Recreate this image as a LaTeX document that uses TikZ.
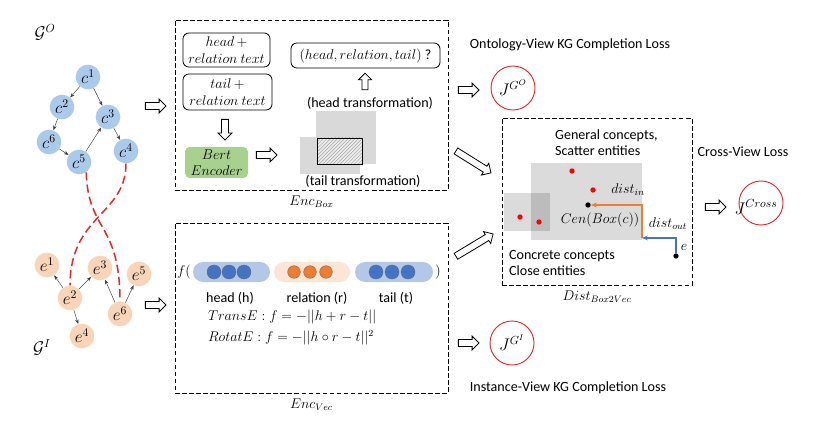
\documentclass[tikz,border=0pt]{standalone}
\usepackage{amsmath,amssymb}
\usepackage{fontspec}
\setmainfont{Carlito}
\usepackage{xcolor}
\usepackage{tikz}
\usetikzlibrary{positioning, arrows.meta, shapes.arrows, patterns}
\definecolor{conceptblue}{RGB}{171,202,234}
\definecolor{entitypeach}{RGB}{248,213,184}
\definecolor{bertgreen}{RGB}{169,209,142}
\definecolor{pillblue}{RGB}{180,199,231}
\definecolor{dotblue}{RGB}{68,114,196}
\definecolor{pillpeach}{RGB}{251,229,214}
\definecolor{dotorange}{RGB}{237,125,49}
\definecolor{boxgray}{RGB}{217,217,217}
\definecolor{lossred}{RGB}{232,40,40}
\tikzset{
  concept/.style={circle, fill=conceptblue, minimum size=0.74cm, inner sep=0pt, font=\Large},
  entity/.style={circle, fill=entitypeach, minimum size=0.74cm, inner sep=0pt, font=\Large},
  every edge/.style={draw, -{Stealth[length=4pt, width=3pt]}, black!75, line width=0.4pt},
  crosslink/.style={draw, lossred, line width=1.3pt, dash pattern=on 7pt off 3.5pt},
  hollow/.style={single arrow, draw, line width=0.7pt, fill=white, minimum height=0.62cm,
    inner sep=2.6pt, single arrow head extend=3pt},
  textbox/.style={draw, line width=0.7pt, rounded corners=5pt, align=center, inner sep=2pt, font=\large},
  bert/.style={rounded corners=4pt, fill=bertgreen, align=center, inner sep=2pt, font=\large},
  dashbox/.style={draw, dash pattern=on 4pt off 2pt, line width=0.6pt},
  pill/.style={rounded corners=0.3cm, minimum height=0.6cm},
  vecdot/.style={circle, draw=black!60, line width=0.3pt, minimum size=0.42cm, inner sep=0pt},
  loss/.style={circle, draw=lossred, line width=0.8pt, minimum size=1.32cm, inner sep=0pt, font=\Large},
  pt/.style={circle, inner sep=0pt, minimum size=0.16cm},
  distline/.style={-{Stealth[length=5pt, width=4pt]}, line width=1.1pt},
}

\begin{document}
\begin{tikzpicture}[x=0.03cm, y=-0.03cm, font=\fontsize{12}{13.8}\selectfont]
  \useasboundingbox (0,0) rectangle (815,427);

  \node[font=\Large] (gO) at (45,32) {$\mathcal{G}^{O}$};
  \node[concept] (c1) at (88,77) {$c^1$};
  \node[concept] (c2) at (62,107) {$c^2$};
  \node[concept] (c3) at (108,117) {$c^3$};
  \node[concept] (c6) at (49,142) {$c^6$};
  \node[concept] (c5) at (79,162) {$c^5$};
  \node[concept] (c4) at (126,151) {$c^4$};

  \node[entity] (e1) at (47,265) {$e^1$};
  \node[entity] (e3) at (100,268) {$e^3$};
  \node[entity] (e5) at (139,274) {$e^5$};
  \node[entity] (e2) at (70,298) {$e^2$};
  \node[entity] (e6) at (120,314) {$e^6$};
  \node[entity] (e4) at (82,336) {$e^4$};
  \node[font=\Large] (gI) at (42,347) {$\mathcal{G}^{I}$};

  \path (c1) edge (c2)
        (c1) edge (c3)
        (c2) edge (c6)
        (c6) edge (c5)
        (c5) edge (c3)
        (c3) edge (c4)
        (e2) edge (e1)
        (e2) edge (e3)
        (e2) edge (e4)
        (e6) edge (e3)
        (e6) edge (e5);

  \draw[crosslink] (c5.-55) .. controls (88,232) and (120,222) .. (e6.north);
  \draw[crosslink] (c4.south) .. controls (126,215) and (70,215) .. (e2.north);

  \node[hollow] (a1) at (154,106) {};
  \node[hollow] (a2) at (154,305) {};

  \node[dashbox, minimum width=8.19cm, minimum height=5.1cm] (encbox) at (311.5,105) {};
  \node[below=1pt of encbox] (encboxlbl) {$Enc_{Box}$};
  \node[textbox, minimum width=2.61cm, minimum height=1.02cm] (hrtext) at (226.5,50) {$head\,+$\\$relation\ text$};
  \node[textbox, minimum width=2.67cm, minimum height=1.08cm] (trtext) at (227.5,92) {$tail\,+$\\$relation\ text$};
  \node[hollow, rotate=-90] (a3) at (225,128) {};
  \node[bert, minimum width=1.89cm, minimum height=0.93cm] (bert) at (216.5,162.5) {$Bert$\\$Encoder$};
  \node[hollow] (a4) at (265,155) {};
  \node[textbox, minimum width=4.47cm, minimum height=0.75cm] (triple) at (365.5,55.5) {$(head, relation, tail)$ ?};
  \node[hollow, rotate=90, minimum height=0.5cm, inner sep=2.2pt] (a5) at (365,83) {};
  \node (headtr) at (370,103) {(head transformation)};
  \fill[boxgray] (316,111) rectangle (376,164);
  \fill[boxgray] (300,137) rectangle (360,174);
  \fill[boxgray!50] (317,138) rectangle (362,164);
  \draw[pattern=north east lines, pattern color=gray!70] (317,138) rectangle (362,164);
  \node (tailtr) at (363,181) {(tail transformation)};

  \node[dashbox, minimum width=8.19cm, minimum height=5.1cm] (vecbox) at (311.5,308) {};
  \node[below=1pt of vecbox] (veclbl) {$Enc_{Vec}$};
  \node[font=\large] (fopen) at (184,272) {$f($};
  \node[pill, fill=pillblue, minimum width=2.31cm] (hpill) at (231.5,272) {};
  \node[pill, fill=pillpeach, minimum width=2.28cm] (rpill) at (312,272) {};
  \node[pill, fill=pillblue, minimum width=2.34cm] (tpill) at (394,272) {};
  \foreach \x [count=\i] in {214,229,244}
    \node[vecdot, fill=dotblue] (h\i) at (\x,272) {};
  \foreach \x [count=\i] in {294,310,326}
    \node[vecdot, fill=dotorange, minimum size=0.38cm] (r\i) at (\x,272) {};
  \foreach \x [count=\i] in {376,392,408}
    \node[vecdot, fill=dotblue] (t\i) at (\x,272) {};
  \node[font=\large] (fclose) at (438,272) {$)$};
  \node (hlbl) at (230,298) {head (h)};
  \node (rlbl) at (317,298) {relation (r)};
  \node (tlbl) at (396,298) {tail (t)};
  \node[anchor=west, font=\large] (transe) at (204,317) {$TransE: f=-||h+r-t||$};
  \node[anchor=west, font=\large] (rotate) at (204,338) {$RotatE: f=-||h\circ r-t||^2$};

  \node[hollow] (a6) at (467,90) {};
  \node[loss] (jgo) at (513,88) {$J^{G^O}$};
  \node (ontlbl) at (570,45) {Ontology-View KG Completion Loss};
  \node[hollow] (a7) at (467,343) {};
  \node[loss] (jgi) at (512,343) {$J^{G^I}$};
  \node (instlbl) at (568,388) {Instance-View KG Completion Loss};
  \node[hollow, rotate=-32, minimum height=1.24cm] (a8) at (472,161) {};
  \node[hollow, rotate=31, minimum height=1.3cm] (a9) at (473,246) {};

  \node[dashbox, minimum width=5.7cm, minimum height=5.01cm] (distbox) at (597,201.5) {};
  \node[below=1pt of distbox] (distlbl) {$Dist_{Box2Vec}$};
  \node[align=left, anchor=west] (general) at (551,143) {General concepts,\\Scatter entities};
  \fill[black, opacity=0.14] (531,163) rectangle (642,240);
  \fill[black, opacity=0.14] (504,193) rectangle (550,231);
  \node[pt, fill=red] (p1) at (572,171) {};
  \node[pt, fill=red] (p2) at (593,190) {};
  \node[pt, fill=red] (p3) at (520,217) {};
  \node[pt, fill=red] (p4) at (539,222) {};
  \node[pt, fill=black] (cen) at (588,205) {};
  \node[font=\large] (cenlbl) at (600,220) {$Cen(Box(c))$};
  \coordinate (turn) at (642,238);
  \node[pt, fill=black] (edot) at (676,256) {};
  \draw[distline, draw=dotorange] (turn) |- (cen);
  \draw[distline, draw=dotblue] (edot) |- (turn);
  \node[font=\large] (distin) at (628,190) {$dist_{in}$};
  \node[font=\large] (distout) at (668,224) {$dist_{out}$};
  \node[font=\large] (elbl) at (684,247) {$e$};
  \node[align=left, anchor=west] (concrete) at (505,263) {Concrete concepts\\Close entities};
  \node (crosslbl) at (743,152) {Cross-View Loss};
  \node[hollow] (a10) at (714,207) {};
  \node[loss] (jcross) at (761,203) {};
  \node[font=\Large] (jcrosslbl) at (756,207) {$J^{Cross}$};
\end{tikzpicture}
\end{document}
